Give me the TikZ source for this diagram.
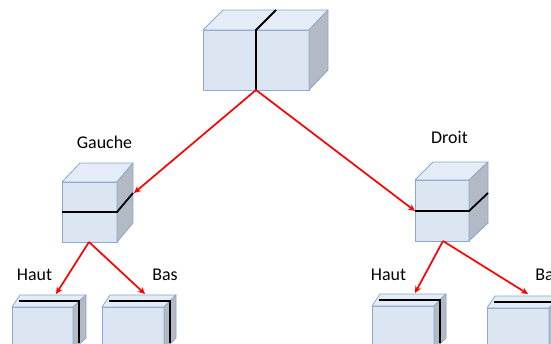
\documentclass[tikz,border=0pt]{standalone}
\usepackage{fontspec}
\setmainfont{Carlito}
\usetikzlibrary{arrows.meta}
\definecolor{frontc}{HTML}{DCE6F3}
\definecolor{topc}{HTML}{E4ECF7}
\definecolor{sidec}{HTML}{B2BAC6}
\definecolor{edgec}{HTML}{8FA7CC}
\tikzset{
  frontf/.style={fill=frontc,draw=edgec,line width=0.8bp,line join=round},
  topf/.style={fill=topc,draw=edgec,line width=0.8bp,line join=round},
  sidef/.style={fill=sidec,draw=edgec,line width=0.8bp,line join=round},
  cut/.style={draw=black,line width=1.8bp},
  link/.style={draw=red,line width=1.7bp,-{Stealth[length=7bp,width=6.5bp]}},
  lbl/.style={font=\fontsize{18}{20}\selectfont,inner sep=0pt}
}
% #1 x0, #2 y0, #3 x1, #4 y1 (front face), #5 dx left, #6 dx right, #7 dy
\newcommand\mycuboid[7]{%
  \filldraw[frontf] (#1,#2) rectangle (#3,#4);
  \filldraw[topf] (#1,#2) -- (#1+#5,#2+#7) -- (#3+#6,#2+#7) -- (#3,#2) -- cycle;
  \filldraw[sidef] (#3,#2) -- (#3+#6,#2+#7) -- (#3+#6,#4+#7) -- (#3,#4) -- cycle;
}
\begin{document}
\begin{tikzpicture}[x=1bp,y=-1bp]
\clip (0,0) rectangle (551,343);
\fill[white] (0,0) rectangle (551,343);

% top cube
\mycuboid{203}{30}{309}{90}{20}{19}{-20}
\draw[cut] (256,90) -- (256,30) -- (276,10);
\coordinate (root) at (256,90);

% left middle cube
\mycuboid{62}{182}{117}{242}{18}{16}{-19}
\draw[cut] (62,212) -- (117,212) -- (133,193);
\coordinate (gin) at (134,193);
\coordinate (gout) at (89,242);

% right middle cube
\mycuboid{415}{180}{469}{241}{18}{19}{-18}
\draw[cut] (415,211) -- (469,211) -- (488,193);
\coordinate (din) at (415,211);
\coordinate (dout) at (443,241);

% bottom boxes
\mycuboid{12}{307}{73}{350}{8}{13}{-12}
\draw[cut] (19,301) -- (79,301) -- (79,343);
\coordinate (ghin) at (56,294);

\mycuboid{102}{307}{164}{350}{8}{12}{-12}
\draw[cut] (109,301) -- (170,301) -- (170,343);
\coordinate (gbin) at (145,294);

\mycuboid{372}{306}{434}{350}{8}{12}{-12}
\draw[cut] (379,300) -- (440,300) -- (440,343);
\coordinate (dhin) at (415,293);

\mycuboid{487}{308}{549}{350}{8}{12}{-12}
\draw[cut] (494,302) -- (555,302) -- (555,343);
\coordinate (dbin) at (528,294);

% labels
\node[lbl] (gauche) at (104.5,142) {Gauche};
\node[lbl] (droit) at (449.5,137) {Droit};
\node[lbl] (haut1) at (34.5,275) {Haut};
\node[lbl] (bas1) at (165,275) {Bas};
\node[lbl] (haut2) at (388.5,275) {Haut};
\node[lbl] (bas2) at (548,275) {Bas};

% arrows
\draw[link] (root) -- (gin);
\draw[link] (root) -- (din);
\draw[link] (gout) -- (ghin);
\draw[link] (gout) -- (gbin);
\draw[link] (dout) -- (dhin);
\draw[link] (dout) -- (dbin);
\end{tikzpicture}
\end{document}
